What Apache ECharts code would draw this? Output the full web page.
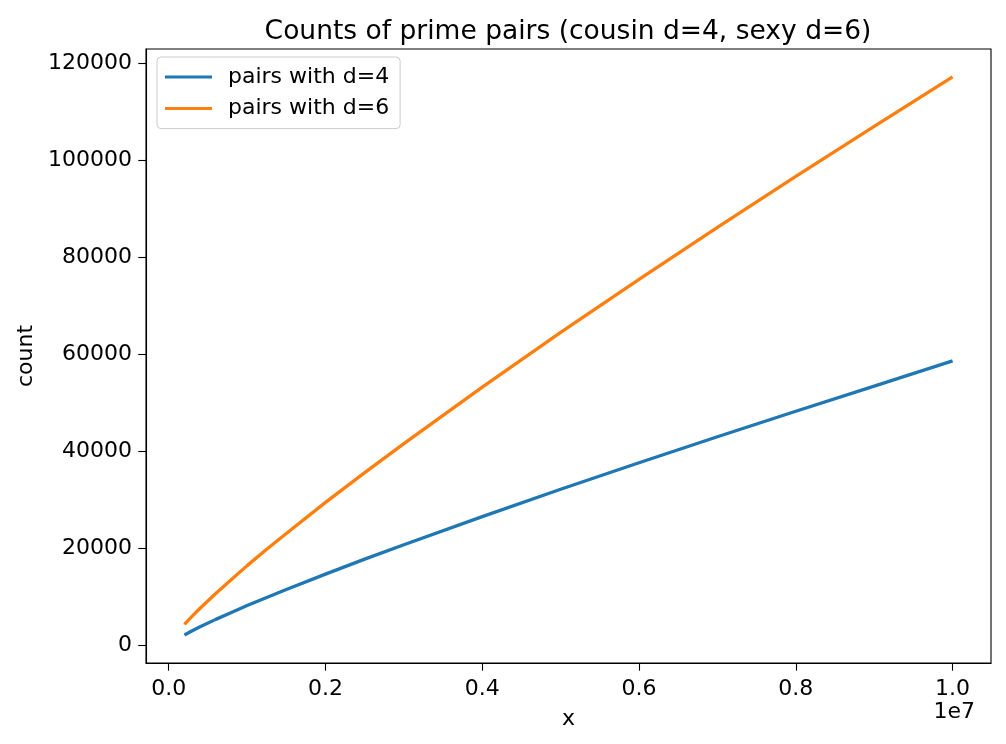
<!DOCTYPE html>
<html>
<head>
<meta charset="utf-8">
<script src="https://cdn.jsdelivr.net/npm/echarts@6/dist/echarts.min.js"></script>
<style>
html,body{margin:0;padding:0;background:#fff;}
#chart{width:1006px;height:744px;}
</style>
</head>
<body>
<div id="chart"></div>
<script>
// x positions (upper bound x)
const xValues = [200000, 300000, 400000, 600000, 800000, 1000000, 1250000, 1500000, 2000000, 2500000, 3000000, 4000000, 5000000, 6000000, 7000000, 8000000, 9000000, 10000000];
// pairs with d=4 (cousin)
const cousinCounts = [2080, 2950, 3770, 5300, 6740, 8144, 9830, 11460, 14640, 17720, 20700, 26500, 32130, 37600, 42970, 48230, 53420, 58622];
// pairs with d=6 (sexy)
const sexyCounts = [4260, 5980, 7600, 10640, 13540, 16386, 19770, 23030, 29430, 35560, 41560, 53200, 64500, 75450, 86160, 96680, 107020, 117207];
// ticks
const xTicks = [0, 2000000, 4000000, 6000000, 8000000, 10000000];
const xTickLabels = ['0.0', '0.2', '0.4', '0.6', '0.8', '1.0'];
const yTicks = [0, 20000, 40000, 60000, 80000, 100000, 120000];
const yTickLabels = ['0', '20000', '40000', '60000', '80000', '100000', '120000'];
const seriesNames = ['pairs with d=4', 'pairs with d=6'];

const FONT = 'DejaVu Sans';
const chart = echarts.init(document.getElementById('chart'), null, {renderer: 'canvas'});
const option = {
  animation: false,
  backgroundColor: '#ffffff',
  textStyle: {fontFamily: FONT},
  title: {
    text: 'Counts of prime pairs (cousin d=4, sexy d=6)',
    left: 563,
    top: 14,
    textAlign: 'center',
    textStyle: {fontFamily: FONT, fontSize: 26.5, fontWeight: 'normal', color: '#000'}
  },
  grid: {
    left: 146, top: 49, right: 15, bottom: 81,
    show: true, borderColor: '#000', borderWidth: 1.1, backgroundColor: 'transparent',
    containLabel: false
  },
  legend: {
    orient: 'vertical',
    left: 157, top: 57,
    padding: [9, 11, 9, 8],
    itemGap: 9.6,
    itemWidth: 47, itemHeight: 3,
    icon: 'rect',
    backgroundColor: 'rgba(255,255,255,0.8)',
    borderColor: '#cccccc', borderWidth: 1, borderRadius: 4,
    textStyle: {fontFamily: FONT, fontSize: 22, color: '#000', padding: [0, 0, 0, 11], lineHeight: 22},
    data: seriesNames
  },
  xAxis: {
    type: 'value',
    min: -290000, max: 10490000,
    name: 'x', nameLocation: 'middle', nameGap: 45,
    nameTextStyle: {fontFamily: FONT, fontSize: 22, color: '#000'},
    axisLine: {show: true, onZero: false, lineStyle: {color: '#000', width: 1.1}},
    axisTick: {show: true, inside: false, length: 7.7, customValues: xTicks, lineStyle: {color: '#000', width: 1.1}},
    axisLabel: {
      customValues: xTicks, margin: 15, color: '#000', fontFamily: FONT, fontSize: 22,
      formatter: function (v) { const i = xTicks.indexOf(v); return i >= 0 ? xTickLabels[i] : ''; }
    },
    splitLine: {show: false}
  },
  yAxis: {
    type: 'value',
    min: -3700, max: 122960,
    name: 'count', nameLocation: 'middle', nameGap: 107, nameRotate: 90,
    nameTextStyle: {fontFamily: FONT, fontSize: 22, color: '#000'},
    axisLine: {show: true, onZero: false, lineStyle: {color: '#000', width: 1.1}},
    axisTick: {show: true, inside: false, length: 7.7, customValues: yTicks, lineStyle: {color: '#000', width: 1.1}},
    axisLabel: {
      customValues: yTicks, margin: 14, color: '#000', fontFamily: FONT, fontSize: 22,
      formatter: function (v) { const i = yTicks.indexOf(v); return i >= 0 ? yTickLabels[i] : ''; }
    },
    splitLine: {show: false}
  },
  graphic: [{
    type: 'text',
    right: 31, top: 701,
    style: {text: '1e7', fontFamily: FONT, fontSize: 22, fill: '#000'}
  }],
  series: [
    {
      name: seriesNames[0], type: 'line', symbol: 'none',
      color: '#1f77b4',
      lineStyle: {color: '#1f77b4', width: 3.3},
      data: xValues.map((x, i) => [x, cousinCounts[i]])
    },
    {
      name: seriesNames[1], type: 'line', symbol: 'none',
      color: '#ff7f0e',
      lineStyle: {color: '#ff7f0e', width: 3.3},
      data: xValues.map((x, i) => [x, sexyCounts[i]])
    }
  ]
};
chart.setOption(option);
</script>
</body>
</html>
